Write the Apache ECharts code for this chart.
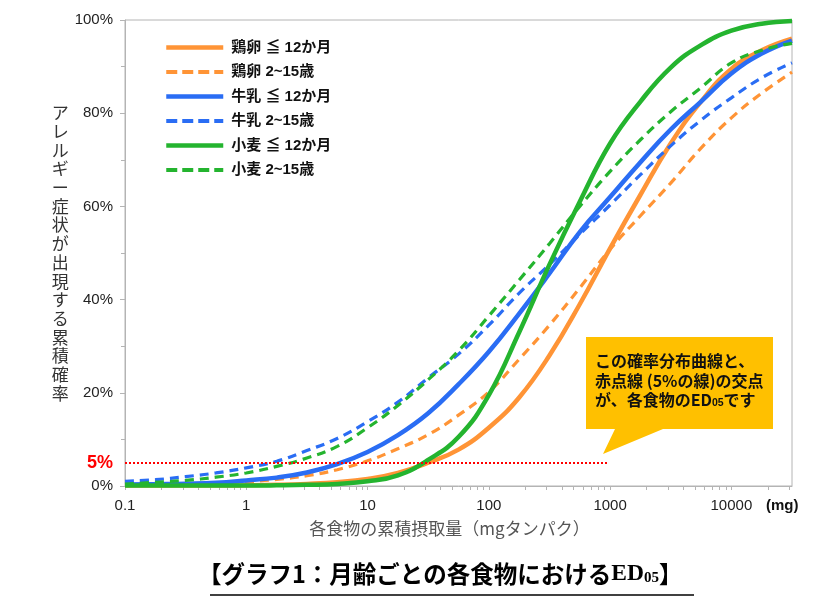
<!DOCTYPE html>
<html>
<head>
<meta charset="utf-8">
<script src="https://cdn.jsdelivr.net/npm/echarts@6/dist/echarts.min.js"></script>
<style>
html,body{margin:0;padding:0;background:#fff;}
#chart{width:826px;height:614px;}
</style>
</head>
<body>
<div id="chart"></div>
<script>
// Doses (mg protein), log-spaced sample points
const doses = [0.1, 0.178, 0.316, 0.562, 1, 1.78, 3.16, 5.62, 10, 17.8, 31.6, 56.2, 100, 178, 316, 562, 1000, 1780, 3160, 5620, 10000, 17800, 31623];

// Cumulative probability (%)
const eggInfant   = [0.1, 0.1, 0.1, 0.1, 0.15, 0.25, 0.45, 0.8, 1.5, 2.8, 5.0, 7.8, 12.5, 19, 28, 39, 51, 62.5, 73.5, 82.5, 89.5, 93.5, 96];
const eggChild    = [0.1, 0.15, 0.3, 0.5, 0.9, 1.4, 2.2, 3.5, 5.4, 8, 11, 15.2, 20.2, 27.2, 34.5, 42.5, 50.8, 58, 65, 72.5, 79, 84.3, 88.8];
const milkInfant  = [0.3, 0.4, 0.5, 0.7, 1.2, 1.8, 2.9, 4.7, 7.3, 10.9, 15.6, 21.8, 28.8, 37, 45.6, 54.5, 62, 69.5, 76.5, 82.5, 88.5, 92.8, 95.6];
const milkChild   = [1.0, 1.35, 2.0, 2.8, 3.9, 5.3, 7.6, 10.2, 13.8, 18, 23.2, 28.3, 34.5, 41.4, 47.5, 54, 60.3, 66.8, 73, 78.5, 83.3, 87.6, 90.8];
const wheatInfant = [0.1, 0.1, 0.1, 0.1, 0.1, 0.15, 0.25, 0.45, 1.0, 2.3, 5.6, 10.5, 19.5, 33, 47.5, 61, 73.5, 82.5, 89.8, 94.6, 97.7, 99.2, 99.8];
const wheatChild  = [0.4, 0.8, 1.2, 1.9, 2.8, 4.2, 6.0, 8.5, 12.5, 17.3, 22.8, 29, 36.5, 44.2, 52, 60, 67.5, 74.3, 80.3, 85.5, 90.8, 93.5, 95];

const seriesNames = ['鶏卵 ≦ 12か月', '鶏卵 2~15歳', '牛乳 ≦ 12か月', '牛乳 2~15歳', '小麦 ≦ 12か月', '小麦 2~15歳'];
const seriesValues = [eggInfant, eggChild, milkInfant, milkChild, wheatInfant, wheatChild];

// Axis ticks / labels
const xTickLabels = ['0.1', '1', '10', '100', '1000', '10000'];
const xMinorTicks = [0.2,0.3,0.4,0.5,0.6,0.7,0.8,0.9,2,3,4,5,6,7,8,9,20,30,40,50,60,70,80,90,200,300,400,500,600,700,800,900,2000,3000,4000,5000,6000,7000,8000,9000,20000,30000];
const yTickLabels = ['0%', '20%', '40%', '60%', '80%', '100%'];
const thresholdValue = 5;
const thresholdEnd = 950;

const colors = ['#FF9436', '#FF9436', '#2A6DF4', '#2A6DF4', '#24B42F', '#24B42F'];
const dashed = [false, true, false, true, false, true];

const FONT = "'Liberation Sans', 'Noto Sans CJK JP', sans-serif";
const JFONT = "'Noto Sans CJK JP', 'Liberation Sans', sans-serif";

const chart = echarts.init(document.getElementById('chart'), null, {renderer: 'canvas'});

function lineStyleFor(i) {
  return {color: colors[i], width: dashed[i] ? 3.2 : 4.5, type: dashed[i] ? [9, 6] : 'solid'};
}

const series = seriesNames.map((name, i) => ({
  name: name,
  type: 'line',
  xAxisIndex: 0,
  yAxisIndex: 0,
  smooth: 0.45,
  symbol: 'none',
  showSymbol: false,
  data: doses.map((d, k) => [d, seriesValues[i][k]]),
  lineStyle: lineStyleFor(i),
  itemStyle: {color: colors[i]},
  animation: false
}));

series[0].markLine = {
  silent: true,
  symbol: ['none', 'none'],
  animation: false,
  lineStyle: {color: '#FF0000', width: 2, type: [2, 2]},
  label: {show: true, position: 'start', distance: 12, formatter: '5%', color: '#FF0000', fontSize: 18, fontWeight: 'bold', fontFamily: FONT},
  data: [[{coord: [doses[0], thresholdValue]}, {coord: [thresholdEnd, thresholdValue]}]]
};

const option = {
  backgroundColor: '#ffffff',
  animation: false,
  textStyle: {fontFamily: FONT},
  title: {
    left: 198, top: 562, padding: 0,
    text: '{a|【グラフ1：月齢ごとの各食物における}{e|ED}{s|05}{a|】}',
    textStyle: {
      rich: {
        a: {fontSize: 23.5, fontWeight: 'bold', color: '#000', fontFamily: JFONT},
        e: {fontSize: 23.5, fontWeight: 'bold', color: '#000', fontFamily: "'Liberation Serif', serif"},
        s: {fontSize: 15, fontWeight: 'bold', color: '#000', fontFamily: "'Liberation Serif', serif", verticalAlign: 'bottom', padding: [6, 0, 0, 0]}
      }
    }
  },
  legend: {
    left: 159, top: 35, orient: 'vertical',
    itemWidth: 57, itemHeight: 16, itemGap: 9.5,
    itemStyle: {opacity: 0},
    textStyle: {fontSize: 15, fontWeight: 'bold', color: '#111', fontFamily: FONT, padding: [0, 0, 0, 3]},
    data: seriesNames.map((n, i) => ({name: n, itemStyle: {opacity: 0}, lineStyle: {color: colors[i], width: dashed[i] ? 4 : 4.5, type: dashed[i] ? [11, 5] : 'solid'}}))
  },
  grid: {left: 125, right: 34, top: 20, bottom: 128, show: true, borderColor: '#b4b4b4', borderWidth: 1, containLabel: false},
  xAxis: [{
    type: 'log', logBase: 10, min: 0.1, max: 31623,
    name: '各食物の累積摂取量（mgタンパク）',
    nameLocation: 'middle', nameGap: 34,
    nameTextStyle: {fontSize: 17, color: '#555', fontFamily: JFONT, padding: [0, 18, 0, 0]},
    axisLine: {show: true, lineStyle: {color: '#b4b4b4', width: 1}},
    axisTick: {show: true, length: 4, lineStyle: {color: '#b4b4b4'}},
    minorTick: {show: false},
    splitLine: {show: false},
    axisLabel: {
      margin: 12, fontSize: 15, color: '#222', showMaxLabel: false,
      formatter: function (v) {
        const lg = Math.log10(v);
        const r = Math.round(lg);
        if (Math.abs(lg - r) > 1e-6) return '';
        return xTickLabels[r + 1] || '';
      }
    }
  }, {
    type: 'log', logBase: 10, min: 0.1, max: 31623,
    position: 'bottom',
    axisLine: {show: false},
    axisLabel: {show: false},
    splitLine: {show: false},
    axisTick: {show: true, length: 4, lineStyle: {color: '#b4b4b4'}, customValues: xMinorTicks}
  }],
  yAxis: {
    type: 'value', min: 0, max: 100, interval: 20,
    name: 'アレルギー症状が出現する累積確率'.split('').join('\n'),
    nameLocation: 'middle', nameRotate: 0, nameGap: 54,
    nameTextStyle: {fontSize: 17, lineHeight: 18.7, color: '#333', fontFamily: JFONT},
    axisLine: {show: true, lineStyle: {color: '#b4b4b4'}},
    axisTick: {show: true, length: 5, lineStyle: {color: '#b4b4b4'}},
    minorTick: {show: true, splitNumber: 2, length: 4, lineStyle: {color: '#b4b4b4'}},
    splitLine: {show: false},
    axisLabel: {margin: 12, fontSize: 15, color: '#222', formatter: function (v) { return yTickLabels[Math.round(v / 20)]; }}
  },
  graphic: [
    {type: 'line', shape: {x1: 210, y1: 595, x2: 694, y2: 595}, style: {stroke: '#000', lineWidth: 1.5}, silent: true},
    {type: 'text', left: 766, top: 498, style: {text: '(mg)', fontSize: 15, fontWeight: 'bold', fill: '#111', fontFamily: FONT}, silent: true},
    {type: 'polygon', shape: {points: [[586, 337], [773, 337], [773, 429], [663, 429], [603, 454], [615, 429], [586, 429]]}, style: {fill: '#FFC000'}, silent: true},
    {type: 'text', left: 595, top: 353, silent: true,
      style: {
        text: '{t|この確率分布曲線と、}\n{t|赤点線 (5%の線)の交点}\n{t|が、各食物のED}{s|05}{t|です}',
        fill: '#111',
        rich: {
          t: {fontSize: 16, fontWeight: 'bold', lineHeight: 19.5, fill: '#111', fontFamily: JFONT},
          s: {fontSize: 10.5, fontWeight: 'bold', lineHeight: 19.5, fill: '#111', fontFamily: FONT, padding: [7, 0, 0, 0]}
        }
      }
    }
  ],
  series: series
};

chart.setOption(option);
</script>
</body>
</html>
